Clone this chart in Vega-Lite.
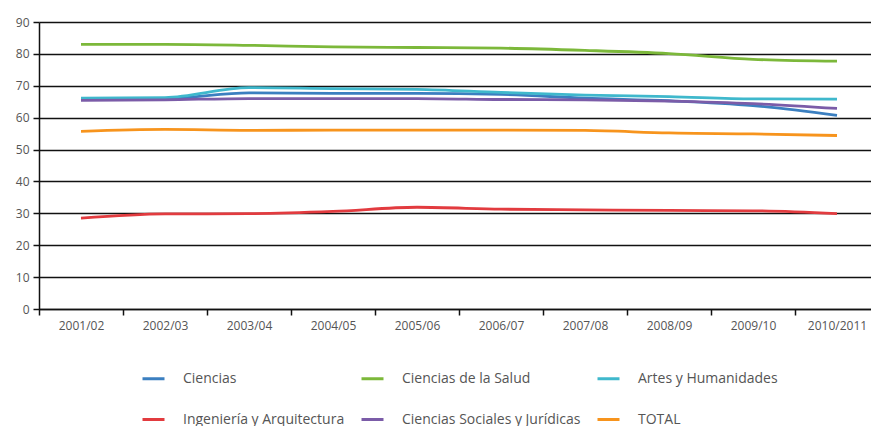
{
  "$schema": "https://vega.github.io/schema/vega-lite/v6.json",
  "autosize": "none",
  "padding": {"left": 39, "top": 22, "right": 0, "bottom": 117},
  "width": 832,
  "height": 287,
  "background": "white",
  "config": {
    "view": {"stroke": null},
    "font": "Open Sans"
  },
  "data": {
    "values": [
      {"year": "2001/02", "serie": "Ciencias", "v": 66.0},
      {"year": "2002/03", "serie": "Ciencias", "v": 66.0},
      {"year": "2003/04", "serie": "Ciencias", "v": 67.8},
      {"year": "2004/05", "serie": "Ciencias", "v": 67.6},
      {"year": "2005/06", "serie": "Ciencias", "v": 67.6},
      {"year": "2006/07", "serie": "Ciencias", "v": 67.3},
      {"year": "2007/08", "serie": "Ciencias", "v": 66.1},
      {"year": "2008/09", "serie": "Ciencias", "v": 65.3},
      {"year": "2009/10", "serie": "Ciencias", "v": 63.8},
      {"year": "2010/2011", "serie": "Ciencias", "v": 60.7},
      {"year": "2001/02", "serie": "Ciencias de la Salud", "v": 83.0},
      {"year": "2002/03", "serie": "Ciencias de la Salud", "v": 83.0},
      {"year": "2003/04", "serie": "Ciencias de la Salud", "v": 82.7},
      {"year": "2004/05", "serie": "Ciencias de la Salud", "v": 82.2},
      {"year": "2005/06", "serie": "Ciencias de la Salud", "v": 82.0},
      {"year": "2006/07", "serie": "Ciencias de la Salud", "v": 81.8},
      {"year": "2007/08", "serie": "Ciencias de la Salud", "v": 81.1},
      {"year": "2008/09", "serie": "Ciencias de la Salud", "v": 80.1},
      {"year": "2009/10", "serie": "Ciencias de la Salud", "v": 78.3},
      {"year": "2010/2011", "serie": "Ciencias de la Salud", "v": 77.7},
      {"year": "2001/02", "serie": "Artes y Humanidades", "v": 66.1},
      {"year": "2002/03", "serie": "Artes y Humanidades", "v": 66.3},
      {"year": "2003/04", "serie": "Artes y Humanidades", "v": 69.4},
      {"year": "2004/05", "serie": "Artes y Humanidades", "v": 69.1},
      {"year": "2005/06", "serie": "Artes y Humanidades", "v": 68.9},
      {"year": "2006/07", "serie": "Artes y Humanidades", "v": 67.9},
      {"year": "2007/08", "serie": "Artes y Humanidades", "v": 67.1},
      {"year": "2008/09", "serie": "Artes y Humanidades", "v": 66.6},
      {"year": "2009/10", "serie": "Artes y Humanidades", "v": 65.9},
      {"year": "2010/2011", "serie": "Artes y Humanidades", "v": 65.8},
      {"year": "2001/02", "serie": "Ingeniería y Arquitectura", "v": 28.5},
      {"year": "2002/03", "serie": "Ingeniería y Arquitectura", "v": 29.8},
      {"year": "2003/04", "serie": "Ingeniería y Arquitectura", "v": 29.9},
      {"year": "2004/05", "serie": "Ingeniería y Arquitectura", "v": 30.6},
      {"year": "2005/06", "serie": "Ingeniería y Arquitectura", "v": 31.9},
      {"year": "2006/07", "serie": "Ingeniería y Arquitectura", "v": 31.3},
      {"year": "2007/08", "serie": "Ingeniería y Arquitectura", "v": 31.1},
      {"year": "2008/09", "serie": "Ingeniería y Arquitectura", "v": 30.9},
      {"year": "2009/10", "serie": "Ingeniería y Arquitectura", "v": 30.8},
      {"year": "2010/2011", "serie": "Ingeniería y Arquitectura", "v": 29.9},
      {"year": "2001/02", "serie": "Ciencias Sociales y Jurídicas", "v": 65.4},
      {"year": "2002/03", "serie": "Ciencias Sociales y Jurídicas", "v": 65.6},
      {"year": "2003/04", "serie": "Ciencias Sociales y Jurídicas", "v": 66.0},
      {"year": "2004/05", "serie": "Ciencias Sociales y Jurídicas", "v": 66.0},
      {"year": "2005/06", "serie": "Ciencias Sociales y Jurídicas", "v": 66.0},
      {"year": "2006/07", "serie": "Ciencias Sociales y Jurídicas", "v": 65.7},
      {"year": "2007/08", "serie": "Ciencias Sociales y Jurídicas", "v": 65.6},
      {"year": "2008/09", "serie": "Ciencias Sociales y Jurídicas", "v": 65.2},
      {"year": "2009/10", "serie": "Ciencias Sociales y Jurídicas", "v": 64.4},
      {"year": "2010/2011", "serie": "Ciencias Sociales y Jurídicas", "v": 62.9},
      {"year": "2001/02", "serie": "TOTAL", "v": 55.7},
      {"year": "2002/03", "serie": "TOTAL", "v": 56.3},
      {"year": "2003/04", "serie": "TOTAL", "v": 56.0},
      {"year": "2004/05", "serie": "TOTAL", "v": 56.1},
      {"year": "2005/06", "serie": "TOTAL", "v": 56.1},
      {"year": "2006/07", "serie": "TOTAL", "v": 56.1},
      {"year": "2007/08", "serie": "TOTAL", "v": 56.0},
      {"year": "2008/09", "serie": "TOTAL", "v": 55.2},
      {"year": "2009/10", "serie": "TOTAL", "v": 54.9},
      {"year": "2010/2011", "serie": "TOTAL", "v": 54.4}
    ]
  },
  "mark": {"type": "line", "interpolate": "monotone", "strokeWidth": 2.8},
  "encoding": {
    "x": {
      "field": "year",
      "type": "nominal",
      "sort": null,
      "scale": {"type": "band", "range": [0, 840], "paddingInner": 0, "paddingOuter": 0},
      "axis": {
        "title": null,
        "labelAngle": 0,
        "tickBand": "extent",
        "domainColor": "#111",
        "domainWidth": 1.5,
        "tickColor": "#111",
        "tickWidth": 1.5,
        "tickSize": 6,
        "labelPadding": 5,
        "labelFontSize": 12,
        "labelColor": "#555",
        "labelFont": "Open Sans",
        "grid": false
      }
    },
    "y": {
      "field": "v",
      "type": "quantitative",
      "scale": {"domain": [0, 90], "nice": false},
      "axis": {
        "title": null,
        "values": [0, 10, 20, 30, 40, 50, 60, 70, 80, 90],
        "domainColor": "#111",
        "domainWidth": 1.5,
        "tickColor": "#111",
        "tickWidth": 1.5,
        "tickSize": 6,
        "labelPadding": 4,
        "labelFontSize": 12,
        "labelColor": "#555",
        "labelFont": "Open Sans",
        "grid": true,
        "gridColor": "#111",
        "gridWidth": 1.5,
        "gridOpacity": 1
      }
    },
    "color": {
      "field": "serie",
      "type": "nominal",
      "scale": {
        "domain": ["Ciencias", "Ciencias de la Salud", "Artes y Humanidades", "Ingeniería y Arquitectura", "Ciencias Sociales y Jurídicas", "TOTAL"],
        "range": ["#3b7fc0", "#7cb83a", "#3fb8cc", "#e23b3f", "#7b5ca8", "#f7941d"]
      },
      "legend": {
        "title": null,
        "orient": "none",
        "legendX": 102,
        "legendY": 344,
        "columns": 3,
        "direction": "horizontal",
        "padding": 0,
        "symbolType": "stroke",
        "symbolSize": 484,
        "symbolStrokeWidth": 3,
        "labelOffset": 17,
        "labelFontSize": 14,
        "labelColor": "#555",
        "labelFont": "Open Sans",
        "labelLimit": 300,
        "columnPadding": 10,
        "rowPadding": 21
      }
    }
  }
}
